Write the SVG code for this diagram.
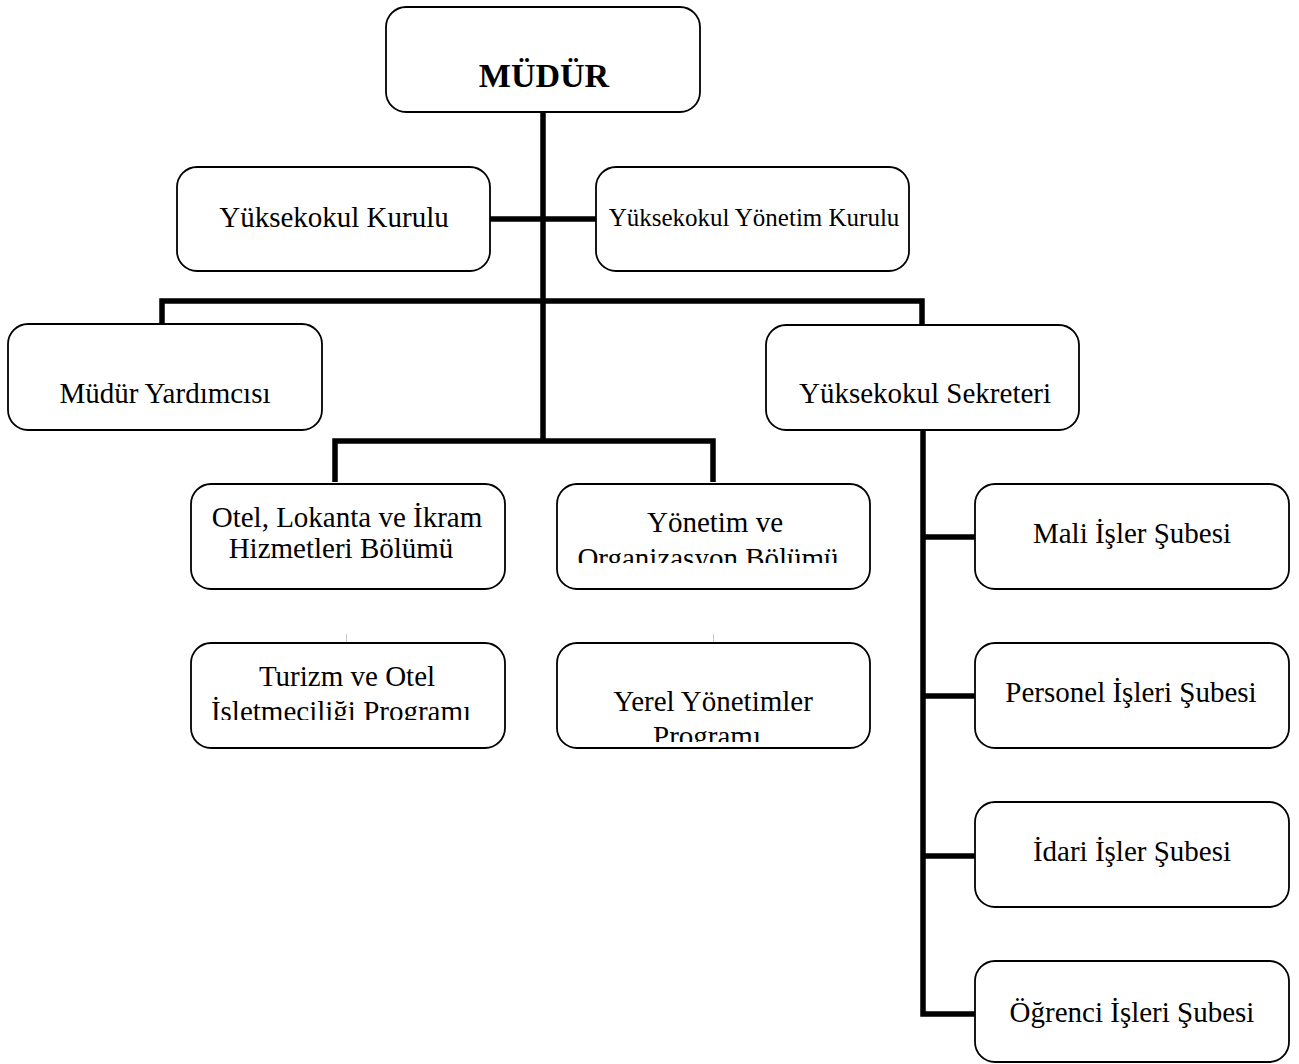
<svg xmlns="http://www.w3.org/2000/svg" width="1299" height="1064" viewBox="0 0 1299 1064">
<style>
.box{fill:#fff;stroke:#000;stroke-width:1.8}
.t{font-family:"Liberation Serif","Times New Roman",serif;font-size:29px;fill:#000;text-anchor:middle}
.b{font-weight:bold;font-size:34px}
.s{font-size:25px}
.c{fill:none;stroke:#000;stroke-width:5.5;stroke-linejoin:miter;stroke-linecap:butt}
.f{fill:none;stroke:#c8c8c8;stroke-width:1}
</style>
<defs>
<clipPath id="clipYon"><rect x="557" y="484" width="313" height="79"/></clipPath>
<clipPath id="clipTur"><rect x="191" y="643" width="314" height="77"/></clipPath>
<clipPath id="clipYer"><rect x="557" y="643" width="313" height="99"/></clipPath>
</defs>
<rect width="1299" height="1064" fill="#fff"/>
<g id="connectors">
<path class="c" d="M543,112 V442"/>
<path class="c" d="M490,219 H596"/>
<path class="c" d="M162,324 V301 H922 V325"/>
<path class="c" d="M335,482 V441 H713 V482"/>
<path class="c" d="M923,430 V1014 H975"/>
<path class="c" d="M923,537 H975"/>
<path class="c" d="M923,696 H975"/>
<path class="c" d="M923,856 H975"/>
<path class="f" d="M346.5,634 V643"/>
<path class="f" d="M713.5,634 V643"/>
</g>
<g id="mudur"><rect class="box" x="386" y="7" width="314" height="105" rx="20"/><text class="t b" x="544" y="87">MÜDÜR</text></g>
<g id="yuksekokul-kurulu"><rect class="box" x="177" y="167" width="313" height="104" rx="20"/><text class="t" x="334" y="227">Yüksekokul Kurulu</text></g>
<g id="yuksekokul-yonetim-kurulu"><rect class="box" x="596" y="167" width="313" height="104" rx="20"/><text class="t s" x="754" y="226">Yüksekokul Yönetim Kurulu</text></g>
<g id="mudur-yardimcisi"><rect class="box" x="8" y="324" width="314" height="106" rx="20"/><text class="t" x="165" y="403">Müdür Yardımcısı</text></g>
<g id="yuksekokul-sekreteri"><rect class="box" x="766" y="325" width="313" height="105" rx="20"/><text class="t" x="925" y="403">Yüksekokul Sekreteri</text></g>
<g id="otel-bolumu"><rect class="box" x="191" y="484" width="314" height="105" rx="20"/><text class="t" x="347" y="527">Otel, Lokanta ve İkram</text><text class="t" x="341" y="558">Hizmetleri Bölümü</text></g>
<g id="yonetim-bolumu"><rect class="box" x="557" y="484" width="313" height="105" rx="20"/><text class="t" x="715" y="532">Yönetim ve</text><text class="t" x="708" y="567.5" clip-path="url(#clipYon)">Organizasyon Bölümü</text></g>
<g id="turizm-programi"><rect class="box" x="191" y="643" width="314" height="105" rx="20"/><text class="t" x="347" y="686">Turizm ve Otel</text><text class="t" x="341" y="721" clip-path="url(#clipTur)">İşletmeciliği Programı</text></g>
<g id="yerel-programi"><rect class="box" x="557" y="643" width="313" height="105" rx="20"/><text class="t" x="713" y="711">Yerel Yönetimler</text><text class="t" x="707" y="746" clip-path="url(#clipYer)">Programı</text></g>
<g id="mali-isler"><rect class="box" x="975" y="484" width="314" height="105" rx="20"/><text class="t" x="1132" y="543">Mali İşler Şubesi</text></g>
<g id="personel-isleri"><rect class="box" x="975" y="643" width="314" height="105" rx="20"/><text class="t" x="1131" y="702">Personel İşleri Şubesi</text></g>
<g id="idari-isler"><rect class="box" x="975" y="802" width="314" height="105" rx="20"/><text class="t" x="1132" y="861">İdari İşler Şubesi</text></g>
<g id="ogrenci-isleri"><rect class="box" x="975" y="961" width="314" height="101" rx="20"/><text class="t" x="1132" y="1022">Öğrenci İşleri Şubesi</text></g>
</svg>
